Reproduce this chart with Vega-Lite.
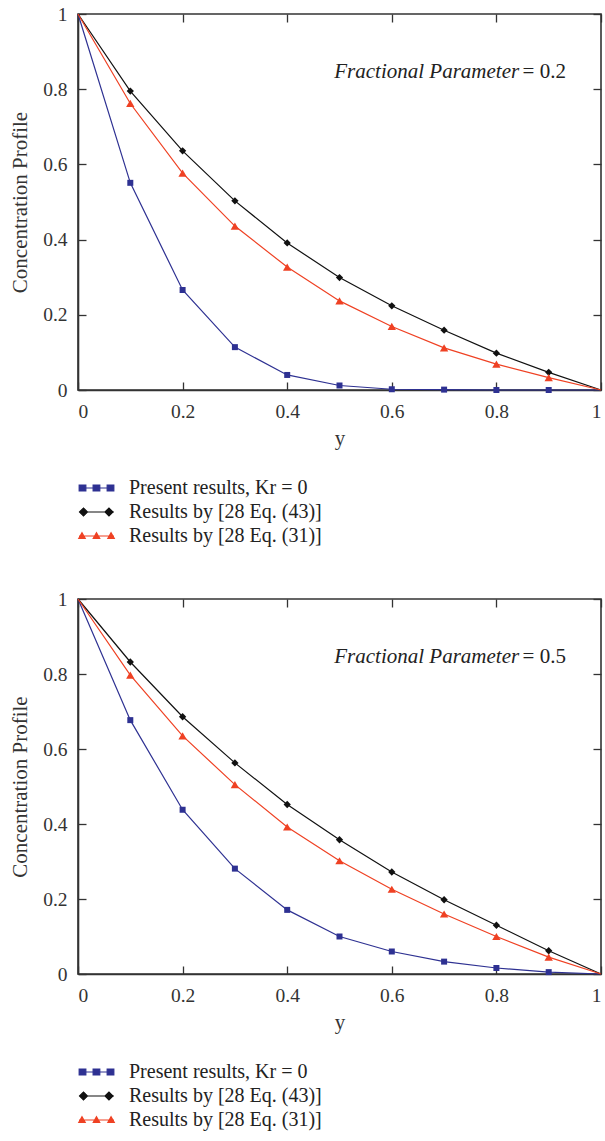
{
  "$schema": "https://vega.github.io/schema/vega-lite/v6.json",
  "background": "white",
  "padding": {"left": 8, "top": 3, "right": 3, "bottom": 0},
  "config": {
    "font": "Liberation Serif",
    "view": {"stroke": "#333", "strokeWidth": 1.6},
    "text": {"font": "Liberation Serif"},
    "axis": {"grid": false, "domainColor": "#333", "domainWidth": 1.6, "tickColor": "#333", "tickWidth": 1.3, "tickSize": -8, "labelFont": "Liberation Serif", "labelFontSize": 19.5, "labelColor": "#333", "titleFont": "Liberation Serif", "titleFontSize": 21, "titleFontWeight": "normal", "titleColor": "#333"},
    "legend": {"labelFont": "Liberation Serif", "labelFontSize": 20, "labelColor": "#222", "labelLimit": 0}
  },
  "datasets": {
    "p1": [
      {"y": 0, "C": 1, "series": "Present results, Kr = 0"},
      {"y": 0.1, "C": 0.551, "series": "Present results, Kr = 0"},
      {"y": 0.2, "C": 0.266, "series": "Present results, Kr = 0"},
      {"y": 0.3, "C": 0.114, "series": "Present results, Kr = 0"},
      {"y": 0.4, "C": 0.040, "series": "Present results, Kr = 0"},
      {"y": 0.5, "C": 0.012, "series": "Present results, Kr = 0"},
      {"y": 0.6, "C": 0.002, "series": "Present results, Kr = 0"},
      {"y": 0.7, "C": 0.001, "series": "Present results, Kr = 0"},
      {"y": 0.8, "C": 0.0, "series": "Present results, Kr = 0"},
      {"y": 0.9, "C": 0.0, "series": "Present results, Kr = 0"},
      {"y": 1, "C": 0, "series": "Present results, Kr = 0"},
      {"y": 0, "C": 1, "series": "Results by [28 Eq. (43)]"},
      {"y": 0.1, "C": 0.795, "series": "Results by [28 Eq. (43)]"},
      {"y": 0.2, "C": 0.636, "series": "Results by [28 Eq. (43)]"},
      {"y": 0.3, "C": 0.503, "series": "Results by [28 Eq. (43)]"},
      {"y": 0.4, "C": 0.391, "series": "Results by [28 Eq. (43)]"},
      {"y": 0.5, "C": 0.299, "series": "Results by [28 Eq. (43)]"},
      {"y": 0.6, "C": 0.224, "series": "Results by [28 Eq. (43)]"},
      {"y": 0.7, "C": 0.159, "series": "Results by [28 Eq. (43)]"},
      {"y": 0.8, "C": 0.098, "series": "Results by [28 Eq. (43)]"},
      {"y": 0.9, "C": 0.047, "series": "Results by [28 Eq. (43)]"},
      {"y": 1, "C": 0, "series": "Results by [28 Eq. (43)]"},
      {"y": 0, "C": 1, "series": "Results by [28 Eq. (31)]"},
      {"y": 0.1, "C": 0.762, "series": "Results by [28 Eq. (31)]"},
      {"y": 0.2, "C": 0.577, "series": "Results by [28 Eq. (31)]"},
      {"y": 0.3, "C": 0.436, "series": "Results by [28 Eq. (31)]"},
      {"y": 0.4, "C": 0.327, "series": "Results by [28 Eq. (31)]"},
      {"y": 0.5, "C": 0.237, "series": "Results by [28 Eq. (31)]"},
      {"y": 0.6, "C": 0.169, "series": "Results by [28 Eq. (31)]"},
      {"y": 0.7, "C": 0.112, "series": "Results by [28 Eq. (31)]"},
      {"y": 0.8, "C": 0.069, "series": "Results by [28 Eq. (31)]"},
      {"y": 0.9, "C": 0.033, "series": "Results by [28 Eq. (31)]"},
      {"y": 1, "C": 0, "series": "Results by [28 Eq. (31)]"}
    ],
    "p2": [
      {"y": 0, "C": 1, "series": "Present results, Kr = 0"},
      {"y": 0.1, "C": 0.677, "series": "Present results, Kr = 0"},
      {"y": 0.2, "C": 0.438, "series": "Present results, Kr = 0"},
      {"y": 0.3, "C": 0.281, "series": "Present results, Kr = 0"},
      {"y": 0.4, "C": 0.171, "series": "Present results, Kr = 0"},
      {"y": 0.5, "C": 0.100, "series": "Present results, Kr = 0"},
      {"y": 0.6, "C": 0.060, "series": "Present results, Kr = 0"},
      {"y": 0.7, "C": 0.033, "series": "Present results, Kr = 0"},
      {"y": 0.8, "C": 0.016, "series": "Present results, Kr = 0"},
      {"y": 0.9, "C": 0.005, "series": "Present results, Kr = 0"},
      {"y": 1, "C": 0, "series": "Present results, Kr = 0"},
      {"y": 0, "C": 1, "series": "Results by [28 Eq. (43)]"},
      {"y": 0.1, "C": 0.832, "series": "Results by [28 Eq. (43)]"},
      {"y": 0.2, "C": 0.686, "series": "Results by [28 Eq. (43)]"},
      {"y": 0.3, "C": 0.563, "series": "Results by [28 Eq. (43)]"},
      {"y": 0.4, "C": 0.452, "series": "Results by [28 Eq. (43)]"},
      {"y": 0.5, "C": 0.358, "series": "Results by [28 Eq. (43)]"},
      {"y": 0.6, "C": 0.272, "series": "Results by [28 Eq. (43)]"},
      {"y": 0.7, "C": 0.198, "series": "Results by [28 Eq. (43)]"},
      {"y": 0.8, "C": 0.130, "series": "Results by [28 Eq. (43)]"},
      {"y": 0.9, "C": 0.062, "series": "Results by [28 Eq. (43)]"},
      {"y": 1, "C": 0, "series": "Results by [28 Eq. (43)]"},
      {"y": 0, "C": 1, "series": "Results by [28 Eq. (31)]"},
      {"y": 0.1, "C": 0.797, "series": "Results by [28 Eq. (31)]"},
      {"y": 0.2, "C": 0.635, "series": "Results by [28 Eq. (31)]"},
      {"y": 0.3, "C": 0.505, "series": "Results by [28 Eq. (31)]"},
      {"y": 0.4, "C": 0.392, "series": "Results by [28 Eq. (31)]"},
      {"y": 0.5, "C": 0.302, "series": "Results by [28 Eq. (31)]"},
      {"y": 0.6, "C": 0.226, "series": "Results by [28 Eq. (31)]"},
      {"y": 0.7, "C": 0.160, "series": "Results by [28 Eq. (31)]"},
      {"y": 0.8, "C": 0.100, "series": "Results by [28 Eq. (31)]"},
      {"y": 0.9, "C": 0.045, "series": "Results by [28 Eq. (31)]"},
      {"y": 1, "C": 0, "series": "Results by [28 Eq. (31)]"}
    ]
  },
  "vconcat": [
    {
      "width": 523, "height": 376,
      "data": {"name": "p1"},
      "layer": [
        {
          "mark": {"type": "line", "strokeWidth": 1.2},
          "encoding": {
            "x": {"field": "y", "type": "quantitative", "scale": {"domain": [0, 1], "nice": false}, "axis": {"orient": "bottom", "title": "y", "values": [0, 0.2, 0.4, 0.6, 0.8, 1], "format": "~g", "labelPadding": 20, "titlePadding": 7}},
            "y": {"field": "C", "type": "quantitative", "scale": {"domain": [0, 1], "nice": false}, "axis": {"orient": "left", "title": "Concentration Profile", "values": [0, 0.2, 0.4, 0.6, 0.8, 1], "format": "~g", "labelPadding": 19, "titlePadding": 12}},
            "color": {"field": "series", "type": "nominal", "scale": {"domain": ["Present results, Kr = 0", "Results by [28 Eq. (43)]", "Results by [28 Eq. (31)]"], "range": ["#2E3192", "#111111", "#EF4123"]}, "legend": null}
          }
        },
        {
          "transform": [{"filter": "datum.y > 0 && datum.y < 1"}],
          "mark": {"type": "point", "filled": true, "opacity": 1},
          "encoding": {
            "x": {"field": "y", "type": "quantitative", "axis": {"orient": "top", "title": null, "labels": false, "domain": false, "values": [0, 0.2, 0.4, 0.6, 0.8, 1]}},
            "y": {"field": "C", "type": "quantitative", "axis": {"orient": "right", "title": null, "labels": false, "domain": false, "values": [0, 0.2, 0.4, 0.6, 0.8, 1]}},
            "color": {"field": "series", "type": "nominal", "scale": {"domain": ["Present results, Kr = 0", "Results by [28 Eq. (43)]", "Results by [28 Eq. (31)]"], "range": ["#2E3192", "#111111", "#EF4123"]}, "legend": null},
            "shape": {"field": "series", "type": "nominal", "scale": {"domain": ["Present results, Kr = 0", "Results by [28 Eq. (43)]", "Results by [28 Eq. (31)]"], "range": ["square", "diamond", "triangle-up"]}, "legend": null},
            "size": {"field": "series", "type": "nominal", "scale": {"domain": ["Present results, Kr = 0", "Results by [28 Eq. (43)]", "Results by [28 Eq. (31)]"], "range": [36, 70, 45]}, "legend": null}
          }
        },
        {
          "data": {"values": [{}]},
          "mark": {"type": "text", "font": "Liberation Serif", "fontStyle": "italic", "fontSize": 21, "align": "left", "baseline": "alphabetic", "color": "#222"},
          "encoding": {
            "x": {"datum": 0.49, "type": "quantitative", "axis": null},
            "y": {"datum": 0.83, "type": "quantitative", "axis": null},
            "text": {"value": "Fractional Parameter"}
          }
        },
        {
          "data": {"values": [{}]},
          "mark": {"type": "text", "font": "Liberation Serif", "fontSize": 21, "align": "left", "baseline": "alphabetic", "color": "#222"},
          "encoding": {
            "x": {"datum": 0.85, "type": "quantitative", "axis": null},
            "y": {"datum": 0.83, "type": "quantitative", "axis": null},
            "text": {"value": "= 0.2"}
          }
        },
        {
          "transform": [{"filter": "false"}],
          "mark": {"type": "point", "opacity": 1, "strokeWidth": 1.2},
          "encoding": {
            "fill": {"field": "series", "type": "nominal", "scale": {"domain": ["Present results, Kr = 0", "Results by [28 Eq. (43)]", "Results by [28 Eq. (31)]"], "range": ["#2E3192", "#111111", "#EF4123"]}, "legend": {"title": null, "orient": "bottom", "direction": "vertical", "offset": 29, "symbolSize": 324, "symbolStrokeWidth": 1.2, "rowPadding": 4, "labelOffset": 31, "symbolOpacity": 1}},
            "stroke": {"field": "series", "type": "nominal", "scale": {"domain": ["Present results, Kr = 0", "Results by [28 Eq. (43)]", "Results by [28 Eq. (31)]"], "range": ["#2E3192", "#111111", "#EF4123"]}, "legend": {"title": null}},
            "shape": {"field": "series", "type": "nominal", "scale": {"domain": ["Present results, Kr = 0", "Results by [28 Eq. (43)]", "Results by [28 Eq. (31)]"], "range": [
              "M-1,0L2.89,0M-0.98,-0.33h0.74v0.66h-0.74ZM0.57,-0.33h0.74v0.66h-0.74ZM2.13,-0.33h0.74v0.66h-0.74Z",
              "M-1,0L2.89,0M-0.94,0L-0.5,-0.44L-0.06,0L-0.5,0.44ZM1.89,0L2.33,-0.44L2.77,0L2.33,0.44Z",
              "M-1,0L2.89,0M-1.03,0.28L-0.67,-0.36L-0.31,0.28ZM0.58,0.28L0.94,-0.36L1.3,0.28ZM2.2,0.28L2.56,-0.36L2.92,0.28Z"
            ]}, "legend": {"title": null}}
          }
        }
      ],
      "resolve": {"scale": {"fill": "independent", "stroke": "independent", "shape": "independent"}, "legend": {"fill": "independent", "stroke": "independent", "shape": "independent"}, "axis": {"x": "independent", "y": "independent"}}
    },
    {
      "width": 523, "height": 375,
      "data": {"name": "p2"},
      "layer": [
        {
          "mark": {"type": "line", "strokeWidth": 1.2},
          "encoding": {
            "x": {"field": "y", "type": "quantitative", "scale": {"domain": [0, 1], "nice": false}, "axis": {"orient": "bottom", "title": "y", "values": [0, 0.2, 0.4, 0.6, 0.8, 1], "format": "~g", "labelPadding": 20, "titlePadding": 7}},
            "y": {"field": "C", "type": "quantitative", "scale": {"domain": [0, 1], "nice": false}, "axis": {"orient": "left", "title": "Concentration Profile", "values": [0, 0.2, 0.4, 0.6, 0.8, 1], "format": "~g", "labelPadding": 19, "titlePadding": 12}},
            "color": {"field": "series", "type": "nominal", "scale": {"domain": ["Present results, Kr = 0", "Results by [28 Eq. (43)]", "Results by [28 Eq. (31)]"], "range": ["#2E3192", "#111111", "#EF4123"]}, "legend": null}
          }
        },
        {
          "transform": [{"filter": "datum.y > 0 && datum.y < 1"}],
          "mark": {"type": "point", "filled": true, "opacity": 1},
          "encoding": {
            "x": {"field": "y", "type": "quantitative", "axis": {"orient": "top", "title": null, "labels": false, "domain": false, "values": [0, 0.2, 0.4, 0.6, 0.8, 1]}},
            "y": {"field": "C", "type": "quantitative", "axis": {"orient": "right", "title": null, "labels": false, "domain": false, "values": [0, 0.2, 0.4, 0.6, 0.8, 1]}},
            "color": {"field": "series", "type": "nominal", "scale": {"domain": ["Present results, Kr = 0", "Results by [28 Eq. (43)]", "Results by [28 Eq. (31)]"], "range": ["#2E3192", "#111111", "#EF4123"]}, "legend": null},
            "shape": {"field": "series", "type": "nominal", "scale": {"domain": ["Present results, Kr = 0", "Results by [28 Eq. (43)]", "Results by [28 Eq. (31)]"], "range": ["square", "diamond", "triangle-up"]}, "legend": null},
            "size": {"field": "series", "type": "nominal", "scale": {"domain": ["Present results, Kr = 0", "Results by [28 Eq. (43)]", "Results by [28 Eq. (31)]"], "range": [36, 70, 45]}, "legend": null}
          }
        },
        {
          "data": {"values": [{}]},
          "mark": {"type": "text", "font": "Liberation Serif", "fontStyle": "italic", "fontSize": 21, "align": "left", "baseline": "alphabetic", "color": "#222"},
          "encoding": {
            "x": {"datum": 0.49, "type": "quantitative", "axis": null},
            "y": {"datum": 0.83, "type": "quantitative", "axis": null},
            "text": {"value": "Fractional Parameter"}
          }
        },
        {
          "data": {"values": [{}]},
          "mark": {"type": "text", "font": "Liberation Serif", "fontSize": 21, "align": "left", "baseline": "alphabetic", "color": "#222"},
          "encoding": {
            "x": {"datum": 0.85, "type": "quantitative", "axis": null},
            "y": {"datum": 0.83, "type": "quantitative", "axis": null},
            "text": {"value": "= 0.5"}
          }
        },
        {
          "transform": [{"filter": "false"}],
          "mark": {"type": "point", "opacity": 1, "strokeWidth": 1.2},
          "encoding": {
            "fill": {"field": "series", "type": "nominal", "scale": {"domain": ["Present results, Kr = 0", "Results by [28 Eq. (43)]", "Results by [28 Eq. (31)]"], "range": ["#2E3192", "#111111", "#EF4123"]}, "legend": {"title": null, "orient": "bottom", "direction": "vertical", "offset": 29, "symbolSize": 324, "symbolStrokeWidth": 1.2, "rowPadding": 4, "labelOffset": 31, "symbolOpacity": 1}},
            "stroke": {"field": "series", "type": "nominal", "scale": {"domain": ["Present results, Kr = 0", "Results by [28 Eq. (43)]", "Results by [28 Eq. (31)]"], "range": ["#2E3192", "#111111", "#EF4123"]}, "legend": {"title": null}},
            "shape": {"field": "series", "type": "nominal", "scale": {"domain": ["Present results, Kr = 0", "Results by [28 Eq. (43)]", "Results by [28 Eq. (31)]"], "range": [
              "M-1,0L2.89,0M-0.98,-0.33h0.74v0.66h-0.74ZM0.57,-0.33h0.74v0.66h-0.74ZM2.13,-0.33h0.74v0.66h-0.74Z",
              "M-1,0L2.89,0M-0.94,0L-0.5,-0.44L-0.06,0L-0.5,0.44ZM1.89,0L2.33,-0.44L2.77,0L2.33,0.44Z",
              "M-1,0L2.89,0M-1.03,0.28L-0.67,-0.36L-0.31,0.28ZM0.58,0.28L0.94,-0.36L1.3,0.28ZM2.2,0.28L2.56,-0.36L2.92,0.28Z"
            ]}, "legend": {"title": null}}
          }
        }
      ],
      "resolve": {"scale": {"fill": "independent", "stroke": "independent", "shape": "independent"}, "legend": {"fill": "independent", "stroke": "independent", "shape": "independent"}, "axis": {"x": "independent", "y": "independent"}}
    }
  ],
  "spacing": 41
}
